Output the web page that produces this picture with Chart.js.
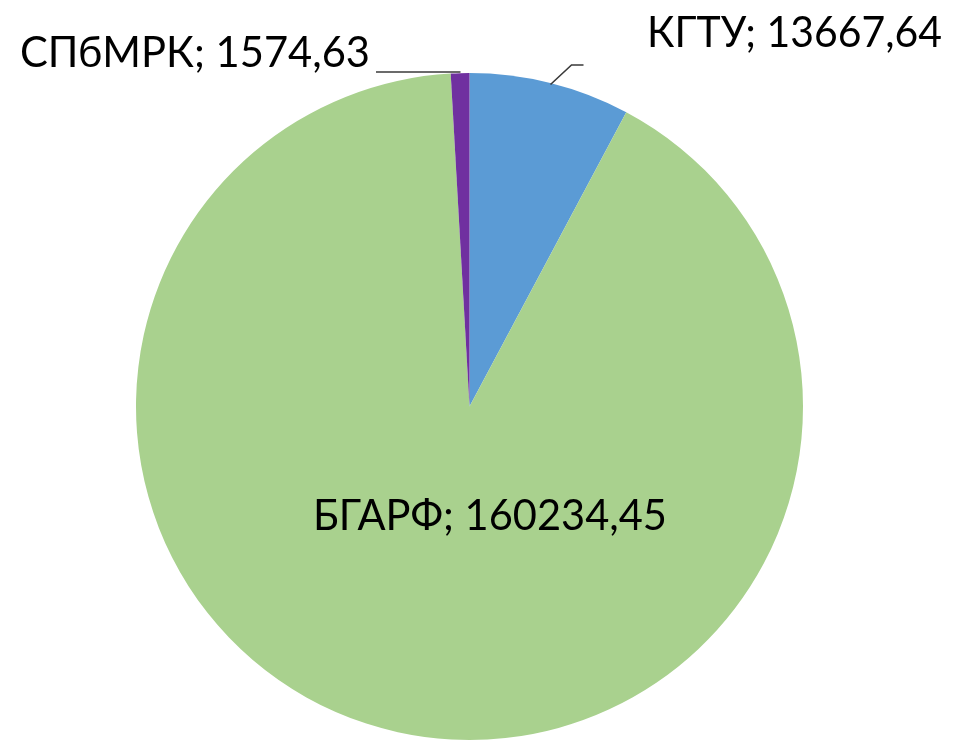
<!DOCTYPE html>
<html><head><meta charset="utf-8">
<script src="https://cdn.jsdelivr.net/npm/chart.js@4"></script>
<style>html,body{margin:0;padding:0;background:#fff;}#wrap{width:953px;height:741px;}</style>
</head><body><div id="wrap"><canvas id="c" width="953" height="741"></canvas></div>
<script>
const categories = ["КГТУ", "БГАРФ", "СПбМРК"];
const values = [13667.64, 160234.45, 1574.63];
const colors = ["#5B9BD5", "#A9D18E", "#7030A0"];

function fmt(v){ return v.toFixed(2).replace('.', ','); }

// label placement (relative to pie centre) and target widths
const labelPos = [
  {dx: 177.5, dy: -360, w: 295},   // КГТУ
  {dx: -156.5, dy: 123.5, w: 354}, // БГАРФ
  {dx: -449.5, dy: -339.5, w: 350} // СПбМРК
];

const labelPlugin = {
  id: 'labels',
  afterDraw(chart){
    const ctx = chart.ctx;
    const arc = chart.getDatasetMeta(0).data[0];
    const cx = arc.x, cy = arc.y;
    ctx.save();
    ctx.strokeStyle = '#3a3a3a';
    ctx.lineWidth = 1.6;
    ctx.beginPath();
    ctx.moveTo(cx - 93.5, cy - 334.5); ctx.lineTo(cx - 9, cy - 334.5);
    ctx.stroke();
    ctx.beginPath();
    ctx.moveTo(cx + 81, cy - 322); ctx.lineTo(cx + 102, cy - 341.5); ctx.lineTo(cx + 114, cy - 341.5);
    ctx.stroke();
    ctx.font = '42px Lato, "Liberation Sans", sans-serif';
    ctx.fillStyle = '#000';
    ctx.textBaseline = 'alphabetic';
    ctx.textAlign = 'left';
    categories.forEach((c, i) => {
      const t = c + '; ' + fmt(values[i]);
      const p = labelPos[i];
      const mw = ctx.measureText(t).width;
      const sx = p.w / mw;
      ctx.save();
      ctx.translate(cx + p.dx, cy + p.dy);
      ctx.scale(sx, 1);
      ctx.fillText(t, 0, 0);
      ctx.restore();
    });
    ctx.restore();
  }
};

new Chart(document.getElementById('c'), {
  type: 'pie',
  data: {
    labels: categories,
    datasets: [{
      data: values,
      backgroundColor: colors,
      borderWidth: 0
    }]
  },
  options: {
    responsive: false,
    animation: false,
    layout: { padding: { left: 136, right: 150, top: 73, bottom: 1 } },
    plugins: { legend: { display: false }, tooltip: { enabled: false } }
  },
  plugins: [labelPlugin]
});
</script>
</body></html>
